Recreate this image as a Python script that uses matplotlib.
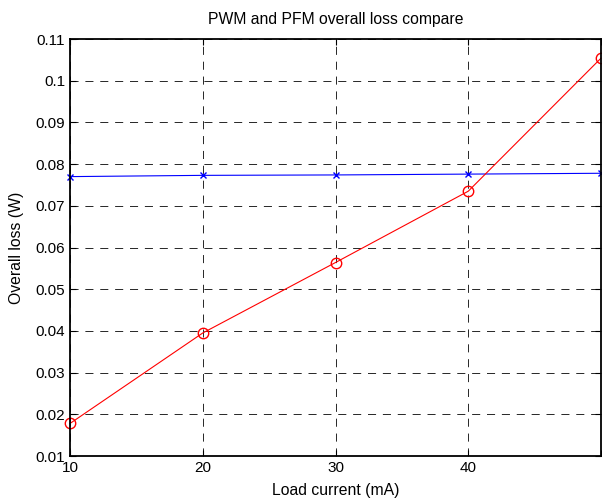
import matplotlib
matplotlib.use('Agg')
import matplotlib.pyplot as plt

# load current (mA)
load_current = [10, 20, 30, 40, 50]
# overall loss (W)
pwm_loss = [0.0770, 0.0773, 0.0774, 0.0776, 0.0778]
pfm_loss = [0.0178, 0.0395, 0.0564, 0.0735, 0.1054]

x_ticks = [10, 20, 30, 40, 50]
x_tick_labels = ['10', '20', '30', '40', '']
y_ticks = [0.01, 0.02, 0.03, 0.04, 0.05, 0.06, 0.07, 0.08, 0.09, 0.1, 0.11]
y_tick_labels = ['0.01', '0.02', '0.03', '0.04', '0.05', '0.06', '0.07',
                 '0.08', '0.09', '0.1', '0.11']

plt.rcParams['font.family'] = ['Liberation Sans', 'DejaVu Sans']

fig = plt.figure(figsize=(6.02, 4.99), dpi=100)
ax = fig.add_axes([70 / 602, 43 / 499, 531 / 602, 417 / 499])

ax.plot(load_current, pwm_loss, color='blue', marker='x', markersize=4,
        linewidth=0.8, clip_on=False)
ax.plot(load_current, pfm_loss, color='red', marker='o', markersize=7.5,
        markerfacecolor='none', linewidth=0.8, clip_on=False)

ax.set_xlim(10, 50)
ax.set_ylim(0.01, 0.11)
ax.set_xticks(x_ticks)
ax.set_xticklabels(x_tick_labels)
ax.set_yticks(y_ticks)
ax.set_yticklabels(y_tick_labels)

ax.grid(True, color='black', linestyle=(0, (8.3, 7)), linewidth=0.7, alpha=0.85)
ax.tick_params(direction='in', top=True, right=True, length=4, labelsize=11)
for sp in ax.spines.values():
    sp.set_linewidth(1.3)

ax.set_title('PWM and PFM overall loss compare', fontsize=11.3, pad=11)
ax.set_xlabel('Load current (mA)', fontsize=11.3, labelpad=6)
ax.set_ylabel('Overall loss (W)', fontsize=11.3, labelpad=8)

fig.savefig('out.png', dpi=100)
